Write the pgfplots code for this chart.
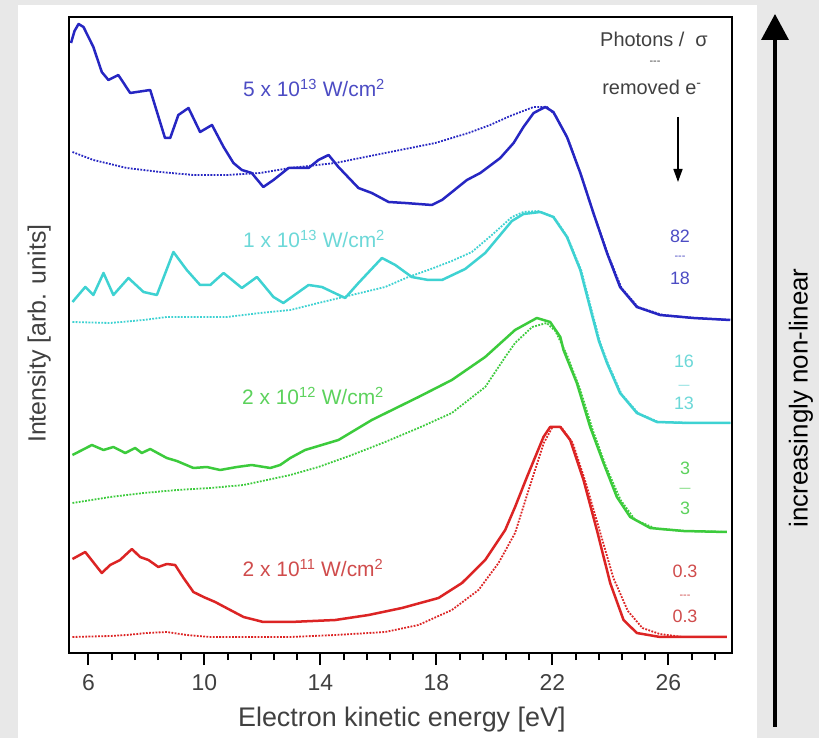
\documentclass[border=0pt]{standalone}
\usepackage{fontspec}
\setmainfont{Liberation Sans}
\usepackage{pgfplots}
\pgfplotsset{compat=1.18}
\usetikzlibrary{arrows.meta}

\definecolor{bgc}{HTML}{E8E8E8}
\definecolor{cblue}{HTML}{2626C2}
\definecolor{ccyan}{HTML}{3ED2D2}
\definecolor{cgreen}{HTML}{3CCB3C}
\definecolor{cred}{HTML}{DC2424}
\definecolor{lblue}{HTML}{4C4CC4}
\definecolor{lcyan}{HTML}{6CD8D8}
\definecolor{lgreen}{HTML}{5CD25C}
\definecolor{lred}{HTML}{D04C4C}
\definecolor{tgray}{HTML}{404040}
\newcommand\fs[1]{\fontsize{#1}{#1}\selectfont}

\begin{document}
\begin{tikzpicture}
% background and white panel
\fill[bgc] (0,0) rectangle (819bp,738bp);
\fill[white] (18bp,0) rectangle (757bp,733bp);

\begin{axis}[
  at={(69bp,85bp)}, anchor=south west, scale only axis,
  width=663bp, height=636bp,
  xmin=5.33, xmax=28.19, ymin=0, ymax=636,
  axis line style={line width=2.2bp},
  xtick={6,10,14,18,22,26},
  minor xtick={6.8,7.6,8.4,9.2,10.8,11.6,12.4,13.2,14.8,15.6,16.4,17.2,18.8,19.6,20.4,21.2,22.8,23.6,24.4,25.2,26.8,27.6},
  ytick=\empty,
  xtick pos=bottom, tick align=outside,
  major tick length=12bp, minor tick length=7bp,
  every tick/.style={black, line width=2bp},
  /pgf/number format/assume math mode=true,
  xticklabel style={font=\fs{23}, text=tgray, yshift=-6bp},
  xlabel={Electron kinetic energy [eV]},
  ylabel={Intensity [arb. units]},
  label style={font=\fs{25}, text=tgray},
  xlabel style={at={(rel axis cs:0.502,-0.115)}, anchor=base, font=\fs{27}},
  ylabel style={at={(rel axis cs:-0.045,0.502)}, anchor=center},
  every axis plot/.append style={line join=round},
  dots/.style={line width=1.8bp, dash pattern=on 1.8bp off 1.4bp},
]
% 5e13 W/cm2
\addplot[cblue, line width=2.5bp] coordinates {
(5.40,610) (5.52,622) (5.66,629) (5.83,626) (6.17,606) (6.46,581) (6.69,573) (7.03,578) (7.44,560) (8.13,563) (8.64,515) (8.82,515) (9.10,538) (9.45,545) (9.85,521) (10.26,528) (10.66,506) (11.00,490) (11.29,483) (11.63,480) (12.03,466) (12.38,473) (12.90,485) (13.59,485) (13.93,493) (14.28,498) (14.62,486) (15.31,465) (15.77,460) (16.35,451) (16.92,450) (17.84,448) (18.19,453) (19.05,473) (19.51,480) (20.20,495) (20.66,510) (21.00,526) (21.35,540) (21.75,546) (22.03,541) (22.50,516) (22.96,480) (23.41,440) (23.88,400) (24.33,366) (24.91,346) (25.71,338) (26.86,335) (28.13,333)};
\addplot[cblue, dots] coordinates {
(5.45,501) (6.17,493) (7.32,485) (8.47,481) (9.62,478) (10.77,478) (11.92,480) (12.96,485) (14.51,490) (16.23,500) (17.96,510) (19.10,520) (19.85,528) (20.54,537) (21.35,546) (21.81,546) (22.10,538) (22.55,513) (23.00,477) (23.45,437) (23.92,398) (24.38,365) (24.95,346) (25.80,338) (26.90,335) (28.13,333)};
% 1e13 W/cm2
\addplot[ccyan, line width=2.5bp] coordinates {
(5.45,351) (5.89,366) (6.17,358) (6.52,380) (6.86,358) (7.38,375) (7.90,361) (8.36,358) (8.93,401) (9.39,383) (9.85,368) (10.20,368) (10.66,380) (11.29,365) (11.81,376) (12.38,356) (12.72,350) (13.59,368) (14.05,366) (14.85,355) (15.31,370) (16.12,395) (16.58,388) (17.15,376) (17.72,373) (18.19,373) (18.99,384) (19.68,400) (20.60,432) (21.00,439) (21.58,441) (22.03,436) (22.50,416) (22.96,383) (23.30,345) (23.60,312) (23.88,290) (24.33,260) (24.91,240) (25.60,231) (26.75,230) (28.13,230)};
\addplot[ccyan, dots] coordinates {
(5.45,331) (6.75,330) (7.90,333) (8.70,336) (9.62,336) (10.77,336) (11.92,340) (12.96,343) (13.93,350) (15.08,358) (16.23,366) (17.03,376) (17.72,383) (18.53,392) (19.22,401) (19.91,418) (20.60,436) (21.00,441) (21.50,442) (22.05,436) (22.52,416) (23.00,382) (23.34,344) (23.64,311) (23.92,289) (24.38,259) (24.95,240) (25.65,231) (26.80,230) (28.13,230)};
% 2e12 W/cm2
\addplot[cgreen, line width=2.5bp] coordinates {
(5.45,198) (6.12,208) (6.52,203) (6.86,206) (7.27,200) (7.61,205) (7.84,200) (8.13,204) (8.70,195) (9.05,192) (9.62,185) (10.08,186) (10.54,183) (11.12,186) (11.63,188) (12.27,185) (12.61,188) (12.96,195) (13.47,203) (14.62,213) (15.77,233) (17.38,256) (18.53,273) (19.68,296) (20.71,323) (21.46,335) (21.92,331) (22.27,316) (22.38,303) (22.84,270) (23.30,226) (23.76,190) (24.22,156) (24.68,136) (25.37,125) (26.52,122) (28.01,121)};
\addplot[cgreen, dots] coordinates {
(5.45,150) (6.75,156) (7.90,160) (9.05,163) (10.20,165) (11.35,168) (12.96,178) (13.93,186) (15.08,198) (16.23,211) (17.38,225) (18.53,240) (19.68,266) (20.37,296) (20.71,310) (21.30,326) (21.80,330) (22.10,322) (22.50,298) (22.95,264) (23.40,222) (23.85,186) (24.35,153) (24.85,133) (25.60,124) (26.60,122) (28.01,121)};
% 2e11 W/cm2
\addplot[cred, line width=2.5bp] coordinates {
(5.45,94) (5.89,101) (6.46,80) (6.75,88) (7.09,93) (7.50,104) (7.78,96) (8.07,93) (8.41,86) (8.70,89) (8.99,88) (9.28,75) (9.62,61) (9.97,56) (10.37,51) (10.89,43) (11.35,36) (12.03,31) (12.96,31) (14.51,33) (15.66,38) (16.81,45) (18.07,55) (18.88,70) (19.68,93) (20.37,123) (20.71,146) (21.12,176) (21.69,216) (21.92,226) (22.27,226) (22.61,213) (23.07,173) (23.53,123) (23.99,70) (24.45,33) (24.91,20) (25.71,16) (28.01,16)};
\addplot[cred, dots] coordinates {
(5.45,16) (6.75,17) (7.32,18) (8.01,20) (8.70,21) (9.39,18) (10.20,16) (12.96,16) (14.51,18) (16.23,21) (17.38,28) (18.53,43) (19.45,63) (20.14,90) (20.71,120) (21.20,165) (21.70,210) (22.00,226) (22.30,226) (22.70,210) (23.15,170) (23.65,120) (24.10,75) (24.60,42) (25.10,25) (25.70,19) (26.50,16) (28.01,16)};
\end{axis}

% annotations, in pixel coordinates of the reference (y downwards)
\begin{scope}[x=1bp, y=-1bp, shift={(0bp,738bp)}, every node/.style={inner sep=0pt}]
\node[anchor=base, text=lblue, font=\fs{21}] at (314,97) {5 x 10\textsuperscript{13} W/cm\textsuperscript{2}};
\node[anchor=base, text=lcyan, font=\fs{21}] at (314,248) {1 x 10\textsuperscript{13} W/cm\textsuperscript{2}};
\node[anchor=base, text=lgreen, font=\fs{21}] at (313,405) {2 x 10\textsuperscript{12} W/cm\textsuperscript{2}};
\node[anchor=base, text=lred, font=\fs{21}] at (313,577) {2 x 10\textsuperscript{11} W/cm\textsuperscript{2}};

\node[anchor=base, text=tgray, font=\fs{20}] at (654,47) {Photons /\ \ σ};
\node[anchor=center, text=tgray, font=\fs{11}] at (655,63) {-{}-{}-};
\node[anchor=base, text=tgray, font=\fs{20}] at (652,95) {removed e\textsuperscript{-}};
\draw[black, line width=1.6bp, -{Triangle[width=9bp,length=13bp]}] (678,117) -- (678,182);

\node[anchor=base, text=lblue, font=\fs{18}] at (680,243) {82};
\node[anchor=center, text=lblue, font=\fs{11}] at (680,258) {-{}-{}-};
\node[anchor=base, text=lblue, font=\fs{18}] at (680,285) {18};
\node[anchor=base, text=lcyan, font=\fs{18}] at (684,368) {16};
\node[anchor=center, text=lcyan, font=\fs{11}] at (684,387) {---};
\node[anchor=base, text=lcyan, font=\fs{18}] at (684,410) {13};
\node[anchor=base, text=lgreen, font=\fs{18}] at (685,475) {3};
\node[anchor=center, text=lgreen, font=\fs{11}] at (685,490) {---};
\node[anchor=base, text=lgreen, font=\fs{18}] at (685,515) {3};
\node[anchor=base, text=lred, font=\fs{18}] at (685,578) {0.3};
\node[anchor=center, text=lred, font=\fs{11}] at (685,597) {-{}-{}-};
\node[anchor=base, text=lred, font=\fs{18}] at (685,623) {0.3};

% right-hand arrow
\draw[black, line width=3.5bp, -{Triangle[width=27bp,length=26bp]}] (775,727) -- (775,14);
\node[rotate=90, font=\fs{26}] at (801,398) {increasingly non-linear};
\end{scope}
\end{tikzpicture}
\end{document}
